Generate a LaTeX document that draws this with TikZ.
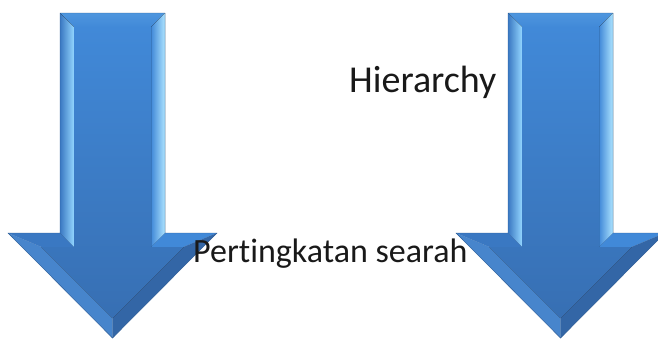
\documentclass[tikz,border=0pt]{standalone}
\usepackage{fontspec}
\setmainfont{Carlito}[Ligatures=NoCommon]
\usetikzlibrary{positioning}

\definecolor{facetop}{HTML}{4189D8}
\definecolor{facebot}{HTML}{376FB3}
\definecolor{bevtop}{HTML}{4E96DE}
\definecolor{bevdark}{HTML}{3A78C2}
\definecolor{bevlight}{HTML}{93D6FF}
\definecolor{bevpale}{HTML}{ADE4FF}
\definecolor{headl}{HTML}{4785CC}
\definecolor{headr}{HTML}{3366A6}
\definecolor{rimline}{HTML}{2E5F9A}

\begin{document}
\begin{tikzpicture}[x=1pt, y=-1pt,
    face/.style={top color=facetop, bottom color=facebot},
    rim/.style={draw=rimline, line width=0.4pt, line join=miter},
    label/.style={inner sep=0pt, anchor=base west, text=black!90}
    ]
    \useasboundingbox (0,0) rectangle (658,341);

    % two bevelled down arrows
    \foreach \cx/\nm in {112.5/left, 560.5/right} {
    \begin{scope}[shift={(\cx,0)}]
        % outline
        \coordinate (\nm-a) at (-52.5,13);
        \coordinate (\nm-b) at (52.5,13);
        \coordinate (\nm-c) at (52.5,233);
        \coordinate (\nm-d) at (104.5,233);
        \coordinate (\nm-e) at (0,338);
        \coordinate (\nm-f) at (-104.5,233);
        \coordinate (\nm-g) at (-52.5,233);
        % inner edge of the bevel
        \coordinate (\nm-ai) at (-38.5,27);
        \coordinate (\nm-bi) at (38.5,27);
        \coordinate (\nm-ci) at (38.5,247);
        \coordinate (\nm-di) at (71,247);
        \coordinate (\nm-ei) at (0,318);
        \coordinate (\nm-fi) at (-71,247);
        \coordinate (\nm-gi) at (-38.5,247);

        % soft shadow under the head
        \foreach \k in {1,...,6}
            \fill[black, opacity=0.05, shift={(0,\k)}]
                (\nm-f) -- (\nm-e) -- (\nm-d) -- cycle;

        % bevel faces
        \fill[top color=bevtop, bottom color=facetop]
            (\nm-a) -- (\nm-b) -- (\nm-bi) -- (\nm-ai) -- cycle;
        \fill[left color=bevdark, right color=bevlight]
            (\nm-a) -- (\nm-ai) -- (\nm-gi) -- (\nm-g) -- cycle;
        \fill[left color=facetop, right color=bevpale]
            (\nm-b) -- (\nm-c) -- (\nm-ci) -- (\nm-bi) -- cycle;
        \fill[bevdark]
            (\nm-g) -- (\nm-gi) -- (\nm-fi) -- (\nm-f) -- cycle;
        \fill[facetop]
            (\nm-c) -- (\nm-d) -- (\nm-di) -- (\nm-ci) -- cycle;
        \fill[headl]
            (\nm-f) -- (\nm-fi) -- (\nm-ei) -- (\nm-e) -- cycle;
        \fill[headr]
            (\nm-e) -- (\nm-ei) -- (\nm-di) -- (\nm-d) -- cycle;

        % front face
        \fill[face] (\nm-ai) -- (\nm-bi) -- (\nm-ci) -- (\nm-di)
            -- (\nm-ei) -- (\nm-fi) -- (\nm-gi) -- cycle;

        \draw[rim] (\nm-a) -- (\nm-b) -- (\nm-c) -- (\nm-d)
            -- (\nm-e) -- (\nm-f) -- (\nm-g) -- cycle;
    \end{scope}
    }

    % labels
    \node (hier) [label, font=\fontsize{38}{41}\selectfont] at (349,92) {Hierarchy};
    \node (pert) [label, font=\fontsize{34}{37}\selectfont] at (193,262) {Pertingkatan searah};
\end{tikzpicture}
\end{document}
